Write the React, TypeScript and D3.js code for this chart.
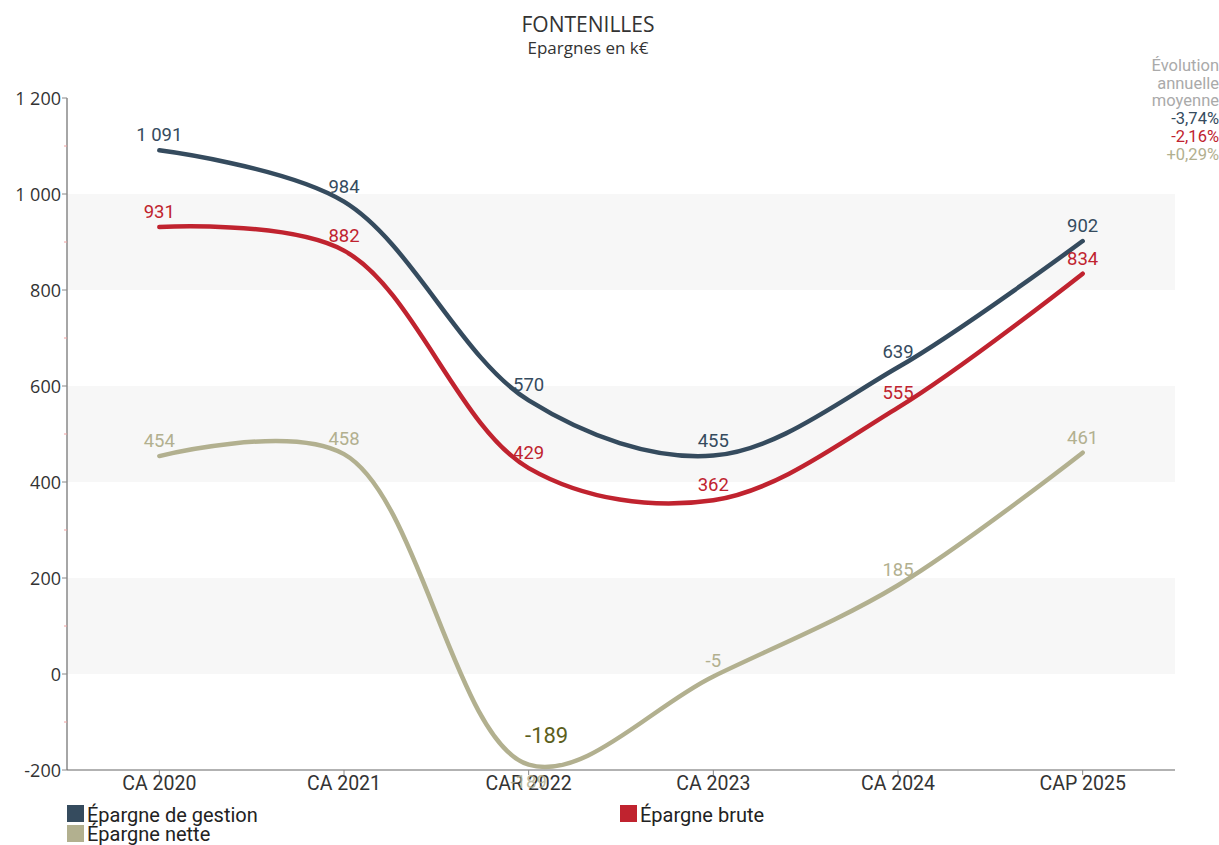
import React from "react";
import * as d3 from "d3";

const categories = ["CA 2020", "CA 2021", "CAR 2022", "CA 2023", "CA 2024", "CAP 2025"];
const gestion = [1091, 984, 570, 455, 639, 902];
const brute = [931, 882, 429, 362, 555, 834];
const nette = [454, 458, -189, -5, 185, 461];
const yTicks = [-200, 0, 200, 400, 600, 800, 1000, 1200];
const evolution = ["-3,74%", "-2,16%", "+0,29%"];

const W = 1219, H = 845;
const x0 = 67, x1 = 1175, yTop = 98, yBot = 770;

const series = [
  { name: "Épargne de gestion", values: gestion, color: "#354b5e" },
  { name: "Épargne brute", values: brute, color: "#c0232f" },
  { name: "Épargne nette", values: nette, color: "#b2b08f" },
];

const fmt = (v: number) => {
  const s = Math.abs(v).toString();
  const withSpace = s.replace(/\B(?=(\d{3})+(?!\d))/g, "\u00a0");
  return (v < 0 ? "-" : "") + withSpace;
};

export default function App() {
  const x = d3.scaleBand<string>().domain(categories).range([x0, x1]);
  const cx = (c: string) => (x(c) as number) + x.bandwidth() / 2;
  const y = d3.scaleLinear().domain([-200, 1200]).range([yBot, yTop]);
  const line = d3
    .line<number>()
    .x((_, i) => cx(categories[i]))
    .y((d) => y(d))
    .curve(d3.curveCatmullRom.alpha(0.5));
  const minor = d3.range(-100, 1200, 200);
  const bands = [[800, 1000], [400, 600], [0, 200]];
  const font = "Roboto, 'Noto Sans', sans-serif";
  const ofont = "'Open Sans', sans-serif";

  return (
    <svg width={W} height={H} style={{ position: "absolute", left: 0, top: 0 }} fontFamily={font}>
      <rect width={W} height={H} fill="#fff" />
      {bands.map(([a, b], i) => (
        <rect key={i} x={x0} y={y(b)} width={x1 - x0} height={y(a) - y(b)} fill="#f7f7f7" />
      ))}
      <text x={588} y={32} textAnchor="middle" fontSize={21} fill="#333" fontFamily={ofont}>FONTENILLES</text>
      <text x={588} y={54} textAnchor="middle" fontSize={17} fill="#333" fontFamily={ofont}>Epargnes en k€</text>
      <g fontSize={16.5} textAnchor="end">
        <text x={1219} y={71} fill="#aaa">Évolution</text>
        <text x={1219} y={89} fill="#aaa">annuelle</text>
        <text x={1219} y={106} fill="#aaa">moyenne</text>
        {evolution.map((e, i) => (
          <text key={e} x={1219} y={124 + i * 18} fill={series[i].color}>{e}</text>
        ))}
      </g>
      {/* y axis */}
      <line x1={x0} x2={x0} y1={yTop} y2={yBot} stroke="#888" strokeWidth={1.5} />
      {yTicks.map((t) => (
        <g key={t}>
          <line x1={x0 - 5} x2={x0} y1={y(t)} y2={y(t)} stroke="#888" />
          <text x={x0 - 6} y={y(t) + 7} textAnchor="end" fontSize={18} fill="#333" fontFamily={ofont}>{fmt(t)}</text>
        </g>
      ))}
      {minor.map((t) => (
        <line key={t} x1={x0 - 3} x2={x0} y1={y(t)} y2={y(t)} stroke="#f0a0a0" />
      ))}
      {/* x axis */}
      <line x1={x0} x2={x1} y1={yBot} y2={yBot} stroke="#666" strokeWidth={1.2} />
      {categories.map((c) => (
        <g key={c}>
          <line x1={cx(c)} x2={cx(c)} y1={yBot} y2={yBot + 5} stroke="#888" />
          <text x={cx(c)} y={790} textAnchor="middle" fontSize={19.5} fill="#333">{c}</text>
        </g>
      ))}
      {/* lines */}
      {series.map((s) => (
        <path key={s.name} d={line(s.values) || ""} fill="none" stroke={s.color} strokeWidth={4.5} strokeLinecap="round" />
      ))}
      {series.map((s) =>
        s.values.map((v, i) => {
          const below = y(v) > yBot - 25;
          return (
            <text key={s.name + i} x={cx(categories[i])} y={below ? 788 : y(v) - 9} textAnchor="middle" fontSize={18.5} fill={s.color} opacity={below ? 0.85 : 1}>
              {fmt(v)}
            </text>
          );
        })
      )}
      <text x={cx(categories[2]) + 18} y={y(nette[2]) - 22} textAnchor="middle" fontSize={22} fill="#5c5f1c">{fmt(nette[2])}</text>
      {/* legend */}
      <g fontSize={20} fill="#222">
        <rect x={67} y={805} width={17} height={17} fill={series[0].color} />
        <text x={87} y={822}>{series[0].name}</text>
        <rect x={620} y={805} width={17} height={17} fill={series[1].color} />
        <text x={640} y={822}>{series[1].name}</text>
        <rect x={67} y={825} width={17} height={17} fill={series[2].color} />
        <text x={87} y={841}>{series[2].name}</text>
      </g>
    </svg>
  );
}
